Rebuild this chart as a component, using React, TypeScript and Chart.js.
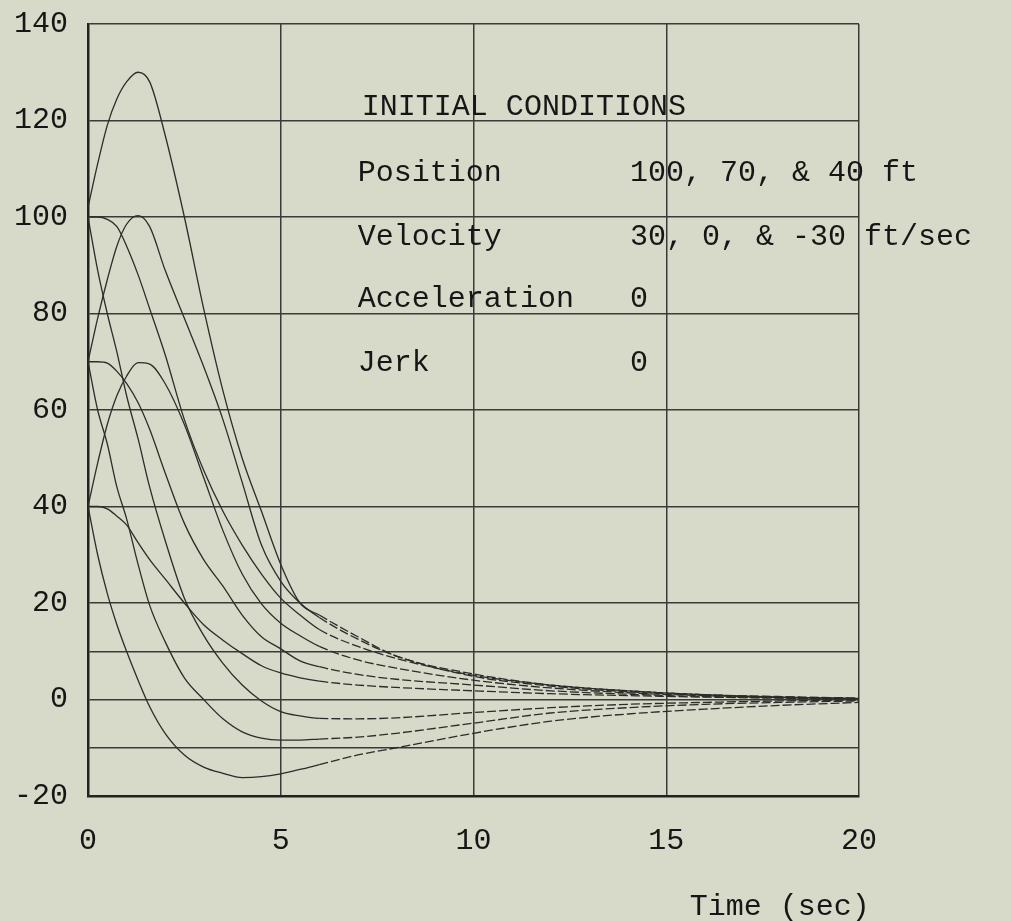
import React, { useEffect, useRef } from "react";
import { Chart, registerables } from "chart.js";

Chart.register(...registerables);

// Time samples (sec)
const TIMES = [0, 0.25, 0.5, 0.75, 1, 1.3, 1.6, 2, 2.5, 3, 3.5, 4, 4.5, 5, 5.5, 6, 7, 8, 10, 12, 14, 16, 18, 20];

// Position responses (ft) for each initial condition (position, velocity)
const P100_V30 = [102, 111, 119, 124.5, 128, 130, 128, 117, 100, 81, 64, 50, 39, 28, 20, 17.5, 13, 9, 5.3, 3, 1.8, 1, 0.6, 0.3];
const P100_V0 = [100, 100, 99.5, 98, 94, 88, 81, 71.5, 58, 47.5, 39, 32, 26, 21, 17.5, 14.5, 11, 8.5, 5, 3, 1.8, 1, 0.5, 0.2];
const P100_VM30 = [100, 89, 80, 72, 63, 54, 44, 33, 21, 13.3, 7.5, 3, -0.3, -2.5, -3.4, -3.9, -4, -3.8, -2.7, -1.7, -1, -0.6, -0.3, -0.1];
const P70_V30 = [70, 79, 87, 94, 98.5, 100.3, 98, 89, 79, 69, 58, 45, 32, 24.5, 20, 17, 12.5, 9, 4.8, 2.8, 1.6, 0.9, 0.5, 0.2];
const P70_V0 = [70, 70, 69.7, 68, 65.5, 61.5, 56, 47, 36.5, 29, 23.5, 17.5, 13, 10.5, 8, 6.8, 5.2, 4.2, 3, 1.8, 1.1, 0.6, 0.3, 0.1];
const P70_VM30 = [70, 60, 53, 44, 37.5, 28, 19.5, 12, 4.5, 0, -4, -6.7, -8, -8.4, -8.4, -8.2, -7.8, -7, -4.9, -2.8, -1.7, -1, -0.6, -0.3];
const P40_V30 = [40, 49, 57, 63, 67, 69.8, 69.5, 65.5, 57, 46, 35, 26, 19.8, 15.8, 13.2, 11, 8.2, 6.5, 4, 2.4, 1.4, 0.8, 0.4, 0.2];
const P40_V0 = [40, 40, 39.5, 38, 36.2, 32.5, 29, 25, 20, 15.5, 12.3, 9.5, 7, 5.5, 4.5, 3.8, 3, 2.5, 1.8, 1.2, 0.8, 0.5, 0.3, 0.1];
const P40_VM30 = [40, 30, 22, 15.5, 10, 4, -1.5, -7, -11.5, -14, -15.3, -16.2, -16, -15.4, -14.5, -13.5, -11.5, -10, -7, -4.5, -3, -2, -1.2, -0.6];

const SERIES = [P100_V30, P100_V0, P100_VM30, P70_V30, P70_V0, P70_VM30, P40_V30, P40_V0, P40_VM30];
const SERIES_NAMES = ["100 ft, 30 ft/sec", "100 ft, 0 ft/sec", "100 ft, -30 ft/sec", "70 ft, 30 ft/sec", "70 ft, 0 ft/sec", "70 ft, -30 ft/sec", "40 ft, 30 ft/sec", "40 ft, 0 ft/sec", "40 ft, -30 ft/sec"];

// Axis ticks
const X_MIN = 0, X_MAX = 20, X_STEP = 5;
const Y_MIN = -20, Y_MAX = 140, Y_STEP = 10;
const X_TITLE = "Time (sec)";

// Annotation text block
const NOTE_TITLE = "INITIAL CONDITIONS";
const NOTE_LABELS = ["Position", "Velocity", "Acceleration", "Jerk"];
const NOTE_VALUES = ["100, 70, & 40 ft", "30, 0, & -30 ft/sec", "0", "0"];

const FONT = "'Liberation Mono', 'DejaVu Sans Mono', monospace";
const INK = "#161616";

export default function App() {
  const ref = useRef<HTMLCanvasElement | null>(null);

  useEffect(() => {
    const canvas = ref.current;
    if (!canvas) return;

    const notePlugin = {
      id: "notes",
      afterDraw(chart: any) {
        const { ctx, scales } = chart;
        const xs = scales.x, ys = scales.y;
        ctx.save();
        ctx.fillStyle = INK;
        ctx.font = `30px ${FONT}`;
        ctx.textBaseline = "alphabetic";
        ctx.textAlign = "left";
        const lx = xs.getPixelForValue(7.0);
        const vx = xs.getPixelForValue(14.06);
        ctx.fillText(NOTE_TITLE, lx + 4, ys.getPixelForValue(121.1));
        const rows = [107.5, 94.2, 81.3, 68.1];
        NOTE_LABELS.forEach((l, i) => {
          const y = ys.getPixelForValue(rows[i]);
          ctx.fillText(l, lx, y);
          ctx.fillText(NOTE_VALUES[i], vx, y);
        });
        ctx.textAlign = "right";
        ctx.fillText(X_TITLE, xs.getPixelForValue(20.28), chart.height - 6);
        ctx.restore();
      },
    };

    const gridColor = (ctx: any) => {
      const v = ctx.tick?.value;
      if (v === undefined) return "rgba(0,0,0,0)";
      if (v % 20 === 0 || v === 10 || v === -10) return "#3a3a38";
      return "rgba(0,0,0,0)";
    };

    const chart = new Chart(canvas, {
      type: "line",
      data: {
        datasets: SERIES.map((vals, i) => ({
          label: SERIES_NAMES[i],
          data: TIMES.map((t, j) => ({ x: t, y: vals[j] })),
          borderColor: "#2c2c2a",
          borderWidth: 1.3,
          pointRadius: 0,
          fill: false,
          cubicInterpolationMode: "monotone" as const,
          segment: {
            borderDash: (c: any) => (c.p0.parsed.x >= 6 ? [9, 3] : undefined),
          },
        })),
      },
      options: {
        animation: false,
        responsive: false,
        maintainAspectRatio: false,
        layout: { padding: { left: 0, right: 152, top: 24, bottom: 0 } },
        plugins: { legend: { display: false }, tooltip: { enabled: false }, title: { display: false } },
        scales: {
          x: {
            type: "linear",
            min: X_MIN,
            max: X_MAX,
            afterFit: (s: any) => { s.height = 125; s.paddingLeft = 0; s.paddingRight = 0; },
            ticks: { stepSize: X_STEP, padding: 27, color: INK, font: { family: FONT, size: 30 } },
            grid: { color: "#3a3a38", lineWidth: 1.5, drawTicks: false },
            border: { display: true, color: "#222", width: 2.5 },
          },
          y: {
            type: "linear",
            min: Y_MIN,
            max: Y_MAX,
            afterFit: (s: any) => { s.width = 88; s.paddingTop = 0; s.paddingBottom = 0; },
            ticks: {
              stepSize: Y_STEP,
              autoSkip: false,
              padding: 20,
              color: INK,
              font: { family: FONT, size: 30 },
              callback: (v: any) => (Number(v) % 20 === 0 ? String(v) : ""),
            },
            grid: { color: gridColor, lineWidth: 1.5, drawTicks: false },
            border: { display: true, color: "#222", width: 2.5 },
          },
        },
      },
      plugins: [notePlugin],
    });

    return () => chart.destroy();
  }, []);

  return (
    <div style={{ position: "fixed", left: 0, top: 0, width: 1011, height: 921, background: "#d7d9c9" }}>
      <canvas ref={ref} width={1011} height={921} style={{ width: 1011, height: 921, display: "block" }} />
    </div>
  );
}
